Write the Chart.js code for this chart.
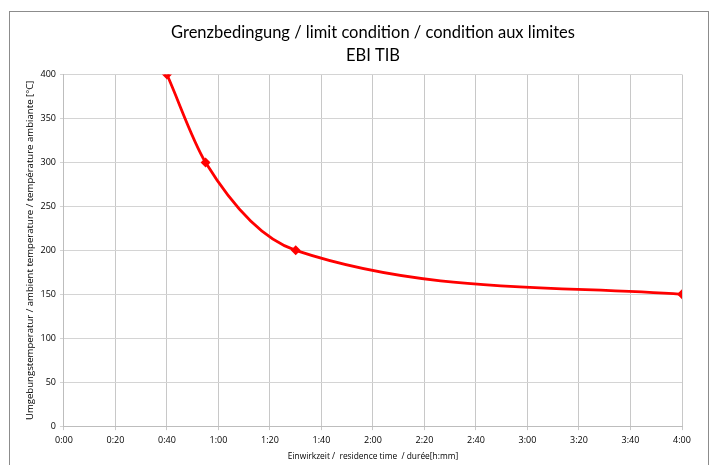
<!DOCTYPE html>
<html lang="de">
<head>
<meta charset="UTF-8">
<title>Grenzbedingung EBI TIB</title>
<script src="https://cdn.jsdelivr.net/npm/chart.js"></script>
<style>
    html, body { margin: 0; padding: 0; background: #fff; }
    #frame {
        position: absolute;
        left: 9px; top: 11px;
        width: 700px; height: 456px;
        border: 1px solid #8c8c8c;
        box-sizing: border-box;
    }
    #frame canvas { display: block; }
</style>
</head>
<body>
<div id="frame"><canvas id="limitChart"></canvas></div>
<script>
// residence time in minutes, temperature in °C
const timeMinutes = [40, 55, 90, 240];
const temperature = [400, 300, 200, 150];
const xTicks = [0, 20, 40, 60, 80, 100, 120, 140, 160, 180, 200, 220, 240];
const yTicks = [0, 50, 100, 150, 200, 250, 300, 350, 400];

function hmm(v) {
    const h = Math.floor(v / 60);
    const m = Math.round(v % 60);
    return h + ':' + (m < 10 ? '0' : '') + m;
}

const tickFont = { family: 'Open Sans', size: 9 };

new Chart(document.getElementById('limitChart'), {
    type: 'line',
    data: {
        datasets: [{
            data: timeMinutes.map((t, i) => ({ x: t, y: temperature[i] })),
            borderColor: '#ff0000',
            backgroundColor: '#ff0000',
            borderWidth: 2.8,
            pointStyle: 'rectRot',
            pointRadius: 3,
            pointHoverRadius: 3,
            cubicInterpolationMode: 'monotone',
            fill: false
        }]
    },
    options: {
        responsive: true,
        maintainAspectRatio: false,
        animation: false,
        events: [],
        layout: { padding: { left: 15, right: 26, top: 0, bottom: 4 } },
        plugins: {
            legend: { display: false },
            tooltip: { enabled: false },
            title: {
                display: true,
                fullSize: false,
                text: ['Grenzbedingung / limit condition / condition aux limites', 'EBI TIB'],
                color: '#000',
                font: { family: 'Lato', size: 16.5, weight: 'normal', lineHeight: 1.35 },
                padding: { top: 10, bottom: 8 }
            }
        },
        scales: {
            x: {
                type: 'linear',
                min: 0,
                max: 240,
                afterBuildTicks: axis => { axis.ticks = xTicks.map(v => ({ value: v })); },
                ticks: {
                    color: '#000',
                    font: tickFont,
                    maxRotation: 0,
                    padding: 5,
                    callback: v => hmm(v)
                },
                grid: { color: '#c8c8c8', tickLength: 4, drawTicks: true },
                border: { color: '#bdbdbd' },
                title: {
                    display: true,
                    text: 'Einwirkzeit /  residence time  / durée[h:mm]',
                    color: '#000',
                    font: { family: 'Open Sans', size: 8.4 },
                    padding: { top: 1, bottom: 0 }
                }
            },
            y: {
                min: 0,
                max: 400,
                afterBuildTicks: axis => { axis.ticks = yTicks.map(v => ({ value: v })); },
                ticks: { color: '#000', font: tickFont, padding: 4 },
                grid: { color: '#d4d4d4', tickLength: 4 },
                border: { color: '#bdbdbd' },
                title: {
                    display: true,
                    text: 'Umgebungstemperatur / ambient temperature / température ambiante [°C]',
                    color: '#000',
                    font: { family: 'Open Sans', size: 9.6 },
                    padding: { top: 0, bottom: 0 }
                }
            }
        }
    }
});
</script>
</body>
</html>
